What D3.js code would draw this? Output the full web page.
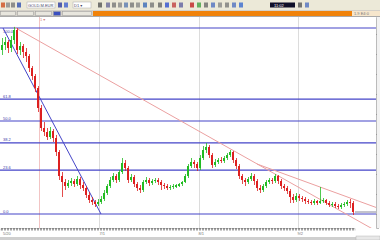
<!DOCTYPE html>
<html>
<head>
<meta charset="utf-8">
<script src="https://cdn.jsdelivr.net/npm/d3@7"></script>
<style>
  body { margin: 0; background: #fff; }
  svg { display: block; font-family: "Liberation Sans", "DejaVu Sans", sans-serif; }
</style>
</head>
<body>
<div id="chart"></div>
<script>
// daily bars
const opens = [
  1364,1369,1372,1366,1374,1384,1364,1368,1362,1358,
  1346,1338,1326,1306,1286,1282,1277,1283,1276,1262,
  1238,1232,1228,1231,1233,1230,1235,1229,1226,1219,
  1214,1212,1210,1212,1215,1221,1228,1234,1238,1234,
  1242,1251,1246,1234,1237,1230,1226,1224,1232,1234,
  1231,1233,1234,1232,1229,1228,1226,1227,1227,1228,
  1230,1232,1238,1248,1252,1250,1246,1256,1264,1267,
  1259,1249,1252,1254,1253,1256,1259,1262,1254,1248,
  1238,1234,1232,1235,1238,1233,1226,1224,1228,1232,
  1234,1233,1238,1233,1228,1226,1223,1217,1214,1218,
  1216,1215,1213,1212,1211,1213,1211,1213,1214,1211,
  1209,1210,1208,1207,1209,1210,1212,1211
];
const closes = [
  1369,1372,1366,1374,1384,1364,1368,1362,1358,1346,
  1338,1326,1306,1286,1282,1277,1283,1276,1262,1238,
  1232,1228,1231,1233,1230,1235,1229,1226,1219,1214,
  1212,1210,1212,1215,1221,1228,1234,1238,1234,1242,
  1251,1246,1234,1237,1230,1226,1224,1232,1234,1231,
  1233,1234,1232,1229,1228,1226,1227,1228,1229,1230,
  1232,1238,1248,1252,1250,1246,1256,1264,1267,1259,
  1249,1252,1254,1253,1256,1259,1262,1254,1248,1238,
  1234,1232,1235,1238,1233,1226,1224,1228,1232,1234,
  1233,1238,1233,1228,1226,1223,1217,1214,1218,1216,
  1215,1213,1212,1211,1213,1211,1213,1214,1211,1209,
  1210,1208,1207,1209,1210,1212,1211,1202
];
const highs = [
  1376,1377,1374,1378,1387,1386,1372,1370,1366,1360,
  1348,1340,1328,1309,1292,1286,1287,1285,1279,1264,
  1242,1235,1234,1236,1235,1238,1237,1232,1228,1222,
  1217,1214,1215,1218,1224,1230,1237,1241,1240,1244,
  1256,1254,1248,1240,1239,1232,1229,1234,1237,1236,
  1235,1236,1236,1234,1231,1230,1229,1230,1230,1231,
  1233,1240,1250,1256,1254,1252,1259,1268,1271,1269,
  1261,1255,1256,1257,1258,1261,1264,1263,1256,1250,
  1240,1236,1237,1241,1240,1235,1229,1230,1234,1236,
  1236,1240,1239,1235,1230,1228,1225,1220,1221,1220,
  1218,1217,1215,1214,1215,1214,1227,1216,1215,1213,
  1212,1212,1210,1211,1212,1214,1215,1213
];
const lows = [
  1359,1364,1361,1362,1370,1360,1359,1356,1352,1342,
  1334,1322,1302,1283,1278,1274,1275,1272,1258,1234,
  1217,1224,1226,1228,1227,1228,1225,1223,1216,1211,
  1209,1207,1208,1210,1213,1219,1226,1232,1231,1232,
  1240,1243,1231,1232,1227,1223,1221,1222,1230,1228,
  1229,1231,1229,1224,1225,1224,1224,1225,1226,1227,
  1228,1231,1236,1246,1246,1243,1244,1254,1261,1256,
  1246,1247,1250,1251,1251,1254,1257,1251,1245,1235,
  1230,1228,1230,1233,1229,1223,1221,1222,1226,1230,
  1230,1231,1230,1225,1223,1220,1211,1211,1212,1213,
  1212,1210,1210,1209,1209,1209,1210,1211,1209,1207,
  1207,1206,1205,1205,1207,1208,1206,1199
];

// fibonacci retracement, swing low to swing high
const fibLow = 1200;
const fibHigh = 1386;
const fibLevels = [0, 0.236, 0.382, 0.5, 0.618, 1];
const fibLabels = ["0.0", "23.6", "38.2", "50.0", "61.8", "100.0"];

// trend lines as [bar, price] pairs
const blueTrend = [[0, 1386], [33, 1200]];
const mainTrend = [[4, 1387], [91, 1240]];
const channelTrend = [[85, 1250], [106, 1227]];

// month separators on the time axis
const monthStarts = [33, 66, 99];
const monthLabels = ["7/1", "8/1", "9/2"];
const firstLabel = "5/20";
const cursorBar = 13;

const W = 380, H = 240;
const plotTop = 17, plotBottom = 228, plotRight = 376;

const svg = d3.select('#chart')
  .append('svg')
  .attr('width', W)
  .attr('height', H)

/** toolbar and tab strip */
svg.append('rect').attr('width', W).attr('height', 11).attr('fill', '#ece9d8')
svg.append('rect').attr('y', 10).attr('width', W).attr('height', 6).attr('fill', '#d4d0c8')
svg.append('rect').attr('x', 93).attr('y', 11).attr('width', W - 93).attr('height', 5).attr('fill', '#f0820a')
svg.append('rect').attr('x', 352).attr('y', 11).attr('width', 28).attr('height', 5).attr('fill', '#f6e6cc')
svg.append('text').attr('x', 354).attr('y', 15).attr('font-size', 4).attr('fill', '#777').text('1.9 E4:0')
svg.append('line').attr('x1', 0).attr('x2', W).attr('y1', 16.5).attr('y2', 16.5).attr('stroke', '#aaa')

// tabs
const tabs = [[0, 16], [17, 34], [35, 52], [53, 61], [62, 92]]
tabs.forEach(([a, b], i) => {
  svg.append('rect').attr('x', a + 0.5).attr('y', 11.5).attr('width', b - a - 1).attr('height', 4)
    .attr('fill', i == 3 ? '#3a4fc0' : '#e8e6de').attr('stroke', '#999').attr('stroke-width', 0.5)
})

// toolbar icons
const icons = [
  [1, '#d05020'], [6, '#888'], [11, '#777'], [17, '#3050b0'], [58, '#2a3aa0'], [64, '#4060d0'],
  [98, '#555'], [106, '#6a6a9a'], [112, '#777'], [118, '#888'], [124, '#5a7ab0'], [130, '#777'],
  [136, '#888'], [143, '#3a6ab8'], [150, '#777'], [158, '#666'], [165, '#3050d0'], [172, '#c04040'],
  [179, '#6060a0'], [190, '#c02020'], [197, '#40a040'], [204, '#6a6a6a'], [211, '#5070c0'],
  [218, '#888'], [225, '#7a7a7a'], [232, '#5070c0'], [239, '#3a6ad0'], [298, '#555'], [305, '#5070c0']
]
icons.forEach(([x, c]) => {
  svg.append('rect').attr('x', x).attr('y', 2.5).attr('width', 4).attr('height', 5).attr('fill', c).attr('opacity', 0.8)
})
svg.append('rect').attr('x', 27).attr('y', 2).attr('width', 28).attr('height', 6).attr('fill', '#fff').attr('stroke', '#aaa').attr('stroke-width', 0.5)
svg.append('text').attr('x', 28).attr('y', 6.5).attr('font-size', 4).attr('fill', '#446').text('GOLD.M.EUR')
svg.append('rect').attr('x', 73).attr('y', 2).attr('width', 18).attr('height', 6).attr('fill', '#fff').attr('stroke', '#aaa').attr('stroke-width', 0.5)
svg.append('text').attr('x', 74).attr('y', 6.5).attr('font-size', 4).attr('fill', '#446').text('D1 ▾')
svg.append('rect').attr('x', 270).attr('y', 2.5).attr('width', 25).attr('height', 5).attr('fill', '#101028')
svg.append('text').attr('x', 274).attr('y', 6.5).attr('font-size', 4).attr('fill', '#fff').text('11:02')

/** scales */
const n = closes.length
const x = d3.scaleBand()
  .domain(d3.range(n))
  .range([0.5, 0.5 + 3 * n])
  .paddingInner(0.34)
  .paddingOuter(0.17)
const cx = i => x(i) + x.bandwidth() / 2

const y = d3.scaleLinear()
  .domain([1186, 1397])
  .range([plotBottom, plotTop])

svg.append('clipPath').attr('id', 'clip')
  .append('rect').attr('x', 0).attr('y', plotTop).attr('width', plotRight).attr('height', plotBottom - plotTop)
const plot = svg.append('g').attr('clip-path', 'url(#clip)')

// month separators
plot.selectAll('.sep')
  .data(monthStarts)
  .enter()
  .append('line')
  .attr('x1', d => Math.round(cx(d) - 1.5) + 0.5)
  .attr('x2', d => Math.round(cx(d) - 1.5) + 0.5)
  .attr('y1', plotTop).attr('y2', plotBottom)
  .attr('stroke', '#dcdcdc')

plot.append('line')
  .attr('x1', Math.round(cx(cursorBar) - 1.5) + 0.5)
  .attr('x2', Math.round(cx(cursorBar) - 1.5) + 0.5)
  .attr('y1', plotTop).attr('y2', plotBottom)
  .attr('stroke', '#f2c4c4')
svg.append('text').attr('x', cx(cursorBar) - 1).attr('y', 21).attr('font-size', 4)
  .attr('fill', '#d08080').text('1 ▾')

// fibonacci levels
const fibPrice = f => fibLow + (fibHigh - fibLow) * f
plot.selectAll('.fib')
  .data(fibLevels)
  .enter()
  .append('line')
  .attr('x1', 0).attr('x2', plotRight)
  .attr('y1', d => y(fibPrice(d)))
  .attr('y2', d => y(fibPrice(d)))
  .attr('stroke', '#4545c8')
  .attr('stroke-width', 1.2)

plot.selectAll('.fibLabel')
  .data(fibLevels)
  .enter()
  .append('text')
  .attr('x', 3)
  .attr('y', d => d == 1 ? y(fibPrice(d)) + 4.5 : y(fibPrice(d)) - 1.5)
  .attr('font-size', 4)
  .attr('fill', '#3a3aa8')
  .text((d, i) => fibLabels[i])

// trend lines
function extendTo(pts, xEnd) {
  const x1 = cx(pts[0][0]), y1 = y(pts[0][1])
  const x2 = cx(pts[1][0]), y2 = y(pts[1][1])
  const k = (y2 - y1) / (x2 - x1)
  return [x1, y1, xEnd, y1 + k * (xEnd - x1)]
}

const [m1, m2, m3, m4] = extendTo(mainTrend, W)
plot.append('line').attr('x1', m1).attr('y1', m2).attr('x2', m3).attr('y2', m4)
  .attr('stroke', '#eba0a0').attr('stroke-width', 1)
const [c1, c2, c3, c4] = extendTo(channelTrend, W)
plot.append('line').attr('x1', c1).attr('y1', c2).attr('x2', c3).attr('y2', c4)
  .attr('stroke', '#eba0a0').attr('stroke-width', 1)

plot.append('line')
  .attr('x1', cx(blueTrend[0][0]) + 1).attr('y1', y(blueTrend[0][1]))
  .attr('x2', cx(blueTrend[1][0])).attr('y2', y(blueTrend[1][1]))
  .attr('stroke', '#4545c8').attr('stroke-width', 1)

/** candles */
const bars = d3.range(n)
const color = i => closes[i] >= opens[i] ? '#22bb22' : '#dd2020'

plot.selectAll('.wick')
  .data(bars)
  .enter()
  .append('line')
  .attr('x1', d => Math.round(cx(d)) + 0.5)
  .attr('x2', d => Math.round(cx(d)) + 0.5)
  .attr('y1', d => y(highs[d]))
  .attr('y2', d => y(lows[d]))
  .attr('stroke', color)
  .attr('stroke-width', 0.8)

plot.selectAll('.body')
  .data(bars)
  .enter()
  .append('rect')
  .attr('x', d => x(d))
  .attr('width', x.bandwidth())
  .attr('y', d => y(Math.max(opens[d], closes[d])))
  .attr('height', d => Math.max(1, Math.abs(y(opens[d]) - y(closes[d]))))
  .attr('fill', color)

// last price line
plot.append('line')
  .attr('x1', cx(n - 1) + 2).attr('x2', W)
  .attr('y1', y(closes[n - 1])).attr('y2', y(closes[n - 1]))
  .attr('stroke', '#6a6a80').attr('stroke-width', 0.8)

/** axes */
svg.append('g')
  .attr('transform', `translate(${plotRight},0)`)
  .call(d3.axisRight(y).ticks(8).tickSize(3).tickFormat(''))
  .call(g => g.selectAll('line').attr('stroke', '#999'))
  .call(g => g.select('.domain').attr('stroke', '#bbb'))
svg.append('rect').attr('x', plotRight + 1).attr('y', plotTop).attr('width', 3).attr('height', plotBottom - plotTop).attr('fill', '#f2f2f2')

svg.append('g')
  .attr('transform', `translate(0,${plotBottom})`)
  .call(d3.axisBottom(x).tickSize(2.5).tickFormat(''))
  .call(g => g.select('.domain').attr('stroke', '#ccc'))
  .call(g => g.selectAll('.tick line').attr('stroke', '#333').attr('stroke-width', 0.9))

svg.append('text').attr('x', 3).attr('y', 235).attr('font-size', 4).attr('fill', '#777').text(firstLabel)
svg.selectAll('.mlab')
  .data(monthStarts)
  .enter()
  .append('text')
  .attr('x', d => cx(d) - 1.5)
  .attr('y', 235)
  .attr('font-size', 4)
  .attr('fill', '#777')
  .text((d, i) => monthLabels[i])

// status strip
svg.append('rect').attr('y', 237).attr('width', W).attr('height', 3).attr('fill', '#cfcfcf')
svg.append('rect').attr('x', 356).attr('y', 236).attr('width', 24).attr('height', 4).attr('fill', '#e8e8e8').attr('stroke', '#aaa').attr('stroke-width', 0.4)
</script>
</body>
</html>
